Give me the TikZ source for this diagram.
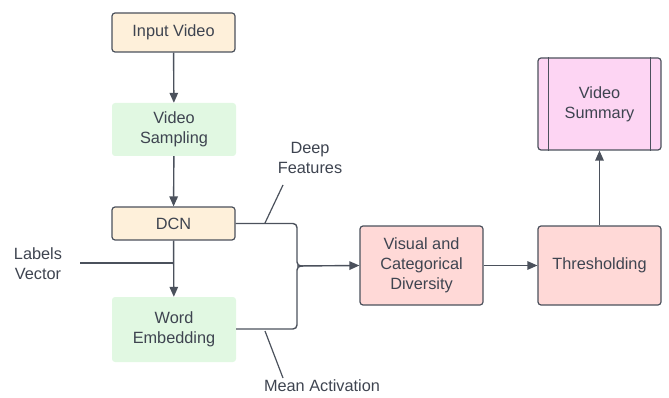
\documentclass[tikz,border=0pt]{standalone}
\usepackage{fontspec}
\setmainfont{Liberation Sans}
\usetikzlibrary{arrows.meta}
\definecolor{txt}{HTML}{3E4450}
\definecolor{ln}{HTML}{4B515C}
\definecolor{orf}{HTML}{FEF0DA}
\definecolor{grf}{HTML}{E1F8E2}
\definecolor{pkf}{HTML}{FFD9D7}
\definecolor{mgf}{HTML}{FDD5F3}
\tikzset{
  base/.style={rectangle, rounded corners=3pt, align=center, text=txt,
    font=\fontsize{16.3}{20}\selectfont, inner sep=0pt},
  orbox/.style={base, fill=orf, draw=ln, line width=1.2pt},
  grbox/.style={base, fill=grf},
  pkbox/.style={base, fill=pkf, draw=ln, line width=1.2pt},
  mgbox/.style={base, fill=mgf, draw=ln, line width=1.2pt},
  lbl/.style={align=center, text=txt, font=\fontsize{16.3}{20}\selectfont, inner sep=0pt},
  conn/.style={draw=ln, line width=1.4pt},
  arr/.style={conn, -{Triangle[length=10pt,width=8.5pt]}},
}
\begin{document}
\begin{tikzpicture}[x=1pt,y=-1pt]
\useasboundingbox (0,0) rectangle (669,398);
\node[orbox, minimum width=123pt, minimum height=39pt] (iv) at (173.5,32.5) {Input Video};
\node[grbox, minimum width=124pt, minimum height=53pt] (vs) at (174,129.5) {Video\\Sampling};
\node[orbox, minimum width=123pt, minimum height=33pt] (dcn) at (173.5,223.5) {DCN};
\node[grbox, minimum width=124pt, minimum height=65pt] (we) at (174,329.5) {Word\\Embedding};
\node[pkbox, minimum width=123pt, minimum height=79pt] (vcd) at (421.5,265.5) {Visual and\\Categorical\\Diversity};
\node[pkbox, minimum width=123pt, minimum height=79pt] (th) at (599.5,265.5) {Thresholding};
\node[mgbox, minimum width=123pt, minimum height=92pt] (vsum) at (599.5,104) {Video\\Summary};
\draw[draw=ln, line width=1.2pt] ([xshift=11pt]vsum.north west) -- ([xshift=11pt]vsum.south west);
\draw[draw=ln, line width=1.2pt] ([xshift=-11pt]vsum.north east) -- ([xshift=-11pt]vsum.south east);

\node[lbl] (lv) at (38,264) {Labels\\Vector};
\node[lbl] (df) at (310,158) {Deep\\Features};
\node[lbl] (ma) at (322,386) {Mean Activation};

\coordinate (lvs) at (80,263);
\coordinate (lve) at (174,263);
\coordinate (jn) at (297,266);
\coordinate (df1) at (265,223);
\coordinate (df2) at (283,185);
\coordinate (ma1) at (265,331);
\coordinate (ma2) at (283,378);

\draw[arr] (iv) -- (vs);
\draw[arr] (vs) -- (dcn);
\draw[arr] (dcn) -- (we);
\draw[conn] (lvs) -- (lve);
\draw[conn, rounded corners=4pt] (dcn.east) -| (jn) -- ([xshift=6pt]jn);
\draw[conn, rounded corners=4pt] ([yshift=0.5pt]we.east) -| (jn) -- ([xshift=6pt]jn);
\draw[arr] (jn) -- (vcd.west);
\draw[arr] (vcd) -- (th);
\draw[arr] (th) -- (vsum);
\draw[conn, line width=1.2pt] (df1) -- (df2);
\draw[conn, line width=1.2pt] (ma1) -- (ma2);
\end{tikzpicture}
\end{document}
